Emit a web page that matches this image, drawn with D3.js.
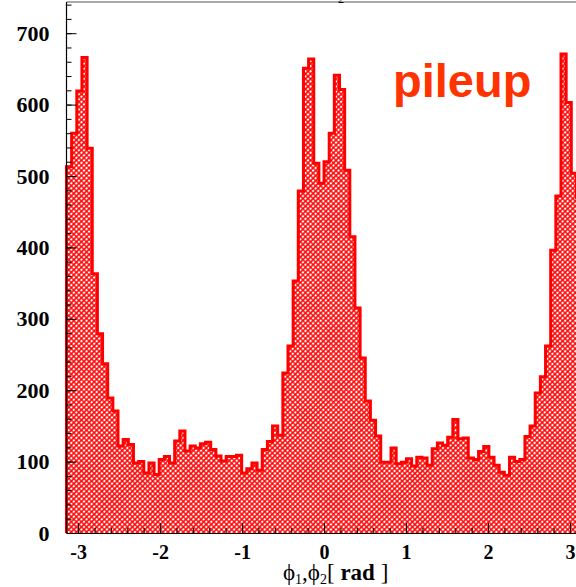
<!DOCTYPE html>
<html>
<head>
<meta charset="utf-8">
<script src="https://cdn.jsdelivr.net/npm/d3@7"></script>
<style>
  body { margin: 0; background: #fff; }
  svg { display: block; }
</style>
</head>
<body>
<script>
// Histogram of azimuthal angle, 100 bins over [-pi, pi]
const binLow = -Math.PI;
const binHigh = Math.PI;
const counts = [
  513, 560, 619, 666, 539, 363, 279, 237, 189, 171,
  122, 131, 124,  98, 100,  84,  98,  82, 103, 107,
   98, 129, 143, 115, 122, 119, 125, 127, 117, 108,
  101, 107, 107, 109,  84,  90,  98,  88, 117, 128,
  150, 137, 224, 262, 353, 479, 651, 664, 518, 490,
  520, 560, 641, 621, 508, 415, 315, 245, 185, 158,
  136,  99,  99, 119,  97,  99, 104,  94, 106, 105,
   95, 118, 126, 123, 134, 159, 132, 133, 105, 103,
  114, 121, 106,  95,  85,  81, 106, 100, 103, 135,
  150, 196, 219, 262, 396, 472, 671, 603, 504, 470
];
const yMax = 743.7;
const yTickValues = [0, 100, 200, 300, 400, 500, 600, 700];
const yTickLabels = ["0", "100", "200", "300", "400", "500", "600", "700"];
const xTickValues = [-3, -2, -1, 0, 1, 2, 3];
const xTickLabels = ["-3", "-2", "-1", "0", "1", "2", "3"];
const tagText = "pileup";

const W = 576, H = 587;
const svg = d3.select("body").append("svg")
  .attr("width", W).attr("height", H);

const x = d3.scaleLinear().domain([binLow, binHigh]).range([66.5, 581.6]);
const y = d3.scaleLinear().domain([0, yMax]).range([533, 2]);

// cross-hatch fill
const defs = svg.append("defs");
const pat = defs.append("pattern")
  .attr("id", "hatch")
  .attr("patternUnits", "userSpaceOnUse")
  .attr("width", 3.6).attr("height", 3.6)
  .attr("patternTransform", "rotate(45)");
pat.append("rect").attr("width", 3.6).attr("height", 3.6).attr("fill", "#fff");
pat.append("path")
  .attr("d", "M1.8,0V3.6M0,1.8H3.6")
  .attr("stroke", "#ff0000")
  .attr("stroke-width", 1.5);

const nb = counts.length;
const bw = (binHigh - binLow) / nb;
const pts = [[x(binLow), y(0)]];
counts.forEach((c, i) => {
  pts.push([x(binLow + i * bw), y(c)]);
  pts.push([x(binLow + (i + 1) * bw), y(c)]);
});
pts.push([x(binHigh), y(0)]);

const line = d3.line();
svg.append("path")
  .attr("d", line(pts) + "Z")
  .attr("fill", "url(#hatch)")
  .attr("stroke", "none");
svg.append("path")
  .attr("d", line(pts))
  .attr("fill", "none")
  .attr("stroke", "#ff0000")
  .attr("stroke-width", 3)
  .attr("stroke-linejoin", "miter");

// frame top
svg.append("line")
  .attr("x1", x(binLow)).attr("x2", x(binHigh))
  .attr("y1", y(yMax)).attr("y2", y(yMax))
  .attr("stroke", "#555").attr("stroke-width", 1.2);

// y axis
const yMinor = d3.range(0, yMax, 20);
svg.append("g")
  .attr("transform", `translate(${x(binLow)},0)`)
  .call(d3.axisLeft(y).tickValues(yMinor).tickSize(-5).tickFormat("").tickSizeOuter(0))
  .call(g => g.select(".domain").remove())
  .call(g => g.selectAll("line").attr("stroke", "#000"));
const yAxis = svg.append("g")
  .attr("transform", `translate(${x(binLow)},0)`)
  .call(d3.axisLeft(y).tickValues(yTickValues).tickSize(-10).tickPadding(17)
    .tickFormat((d, i) => yTickLabels[i]).tickSizeOuter(0));
yAxis.select(".domain").attr("stroke", "#000").attr("stroke-width", 1.2)
  .attr("d", `M0,${y(yMax)}V${y(0)}`);
yAxis.selectAll("text")
  .attr("font-family", "'Liberation Serif', 'Times New Roman', serif")
  .attr("font-weight", "bold")
  .attr("font-size", 22)
  .attr("fill", "#000");

// x axis
const xMinor = d3.range(-3.2, 3.21, 0.2).filter(v => v >= binLow && v <= binHigh);
svg.append("g")
  .attr("transform", `translate(0,${y(0)})`)
  .call(d3.axisBottom(x).tickValues(xMinor).tickSize(-5).tickFormat("").tickSizeOuter(0))
  .call(g => g.select(".domain").remove())
  .call(g => g.selectAll("line").attr("stroke", "#000"));
const xAxis = svg.append("g")
  .attr("transform", `translate(0,${y(0)})`)
  .call(d3.axisBottom(x).tickValues(xTickValues).tickSize(-10).tickPadding(12)
    .tickFormat((d, i) => xTickLabels[i]).tickSizeOuter(0));
xAxis.select(".domain").attr("stroke", "#000").attr("stroke-width", 1.2);
xAxis.selectAll("text")
  .attr("font-family", "'Liberation Serif', 'Times New Roman', serif")
  .attr("font-weight", "bold")
  .attr("font-size", 20)
  .attr("fill", "#000");

// x axis title
const xt = svg.append("text")
  .attr("x", 283).attr("y", 580)
  .attr("font-family", "'Liberation Serif', 'Times New Roman', serif")
  .attr("font-size", 23)
  .attr("fill", "#000");
xt.append("tspan").text("\u03D5");
xt.append("tspan").attr("font-size", 14).attr("dy", 4).text("1");
xt.append("tspan").attr("dy", -4).text(",\u03D5");
xt.append("tspan").attr("font-size", 14).attr("dy", 4).text("2");
xt.append("tspan").attr("dy", -4).text("[ ");
xt.append("tspan").attr("font-weight", "bold").text("rad");
xt.append("tspan").text(" ]");

// remnant of the title above the frame, cut by the top edge
svg.append("text")
  .attr("x", 341).attr("y", 3)
  .attr("text-anchor", "middle")
  .attr("font-family", "'Liberation Serif', serif")
  .attr("font-size", 12)
  .attr("fill", "#000")
  .text("2");

// tag
svg.append("text")
  .attr("x", 393).attr("y", 97)
  .attr("font-family", "'Liberation Sans', Arial, sans-serif")
  .attr("font-weight", "bold")
  .attr("font-size", 47)
  .attr("fill", "#ff3300")
  .text(tagText);
</script>
</body>
</html>
